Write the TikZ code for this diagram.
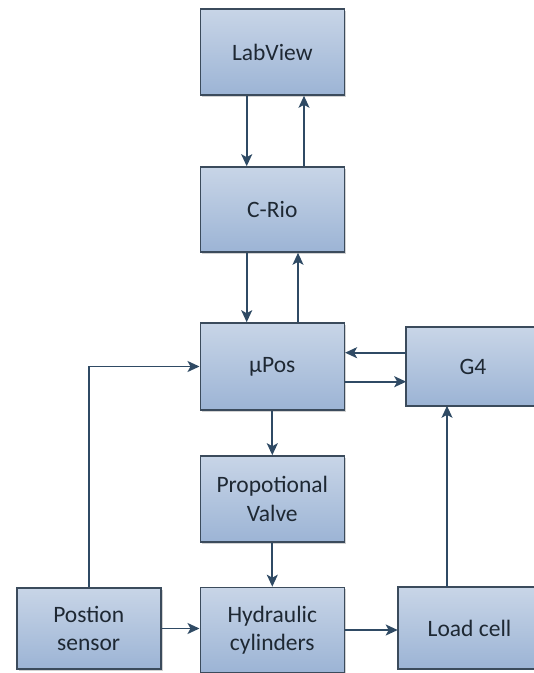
\documentclass[tikz,border=0pt]{standalone}
\usepackage{fontspec}
\setmainfont{Carlito}
\usetikzlibrary{arrows.meta,shadows,calc}
\definecolor{boxtop}{HTML}{C8D5E7}
\definecolor{boxbot}{HTML}{9CB4D5}
\definecolor{boxline}{HTML}{3B4B5C}
\definecolor{arrcol}{HTML}{2F4A64}
\definecolor{txtcol}{HTML}{1E2833}
\begin{document}
\begin{tikzpicture}[x=1pt,y=-1pt,
  blk/.style={draw=boxline, line width=1.6pt, top color=boxtop, bottom color=boxbot,
    minimum width=144pt, inner sep=0pt, align=center, text=txtcol,
    font=\fontsize{23.5}{28.3}\selectfont,
    drop shadow={shadow xshift=1.8pt, shadow yshift=-1.8pt, opacity=0.35, fill=gray}},
  openblk/.style={blk, draw=none},
  edge3/.style={draw=boxline, line width=1.6pt},
  arr/.style={draw=arrcol, line width=1.7pt, -{Stealth[length=12pt,width=11pt,inset=3pt]}}]
\useasboundingbox (0,0) rectangle (534,673);
\clip (0,0) rectangle (534,673);
\fill[white] (0,0) rectangle (534,673);
\node[blk, minimum height=86pt] (lab) at (272.3,52) {LabView};
\node[blk, minimum height=85pt] (crio) at (272.3,209.5) {C-Rio};
\node[blk, minimum height=87pt] (upos) at (272.3,366.5) {µPos};
\node[blk, minimum height=86pt] (valve) at (272.3,499) {Propotional\\Valve};
\node[blk, minimum height=85pt] (hyd) at (272.3,630) {Hydraulic\\cylinders};
\node[blk, minimum height=81pt] (pos) at (88.7,628.5) {Postion\\sensor};
\node[openblk, minimum height=80pt, minimum width=152pt] (load) at (474.5,628) {\hspace*{-10pt}Load cell};
\node[openblk, minimum height=77pt, minimum width=146pt] (g4) at (480,366.5) {\hspace*{-14pt}G4};
\draw[edge3] (load.north east) -- (load.north west) -- (load.south west) -- (load.south east);
\draw[edge3] (g4.north east) -- (g4.north west) -- (g4.south west) -- (g4.south east);
% connectors
\draw[arr] ([xshift=-25.6pt]lab.south) -- ([xshift=-25.6pt]crio.north);
\draw[arr] ([xshift=31.7pt]crio.north) -- ([xshift=31.7pt]lab.south);
\draw[arr] ([xshift=-25.6pt]crio.south) -- ([xshift=-25.6pt]upos.north);
\draw[arr] ([xshift=25.7pt]upos.north) -- ([xshift=25.7pt]crio.south);
\draw[arr] ([yshift=13.8pt]g4.west) -- ([yshift=13.8pt]g4.west -| upos.east);
\draw[arr] ([yshift=-15.2pt]upos.east) -- ([yshift=-15.2pt]upos.east -| g4.west);
\draw[arr] (pos.north) |- (upos.west);
\draw[arr] (upos.south) -- (valve.north);
\draw[arr] (valve.south) -- (hyd.north);
\draw[arr] (pos.east) -- (pos.east -| hyd.west);
\draw[arr] (hyd.east) -- (hyd.east -| load.west);
\draw[arr] ([xshift=-27.5pt]load.north) -- ([xshift=-27.5pt]load.north |- g4.south);
\end{tikzpicture}
\end{document}
